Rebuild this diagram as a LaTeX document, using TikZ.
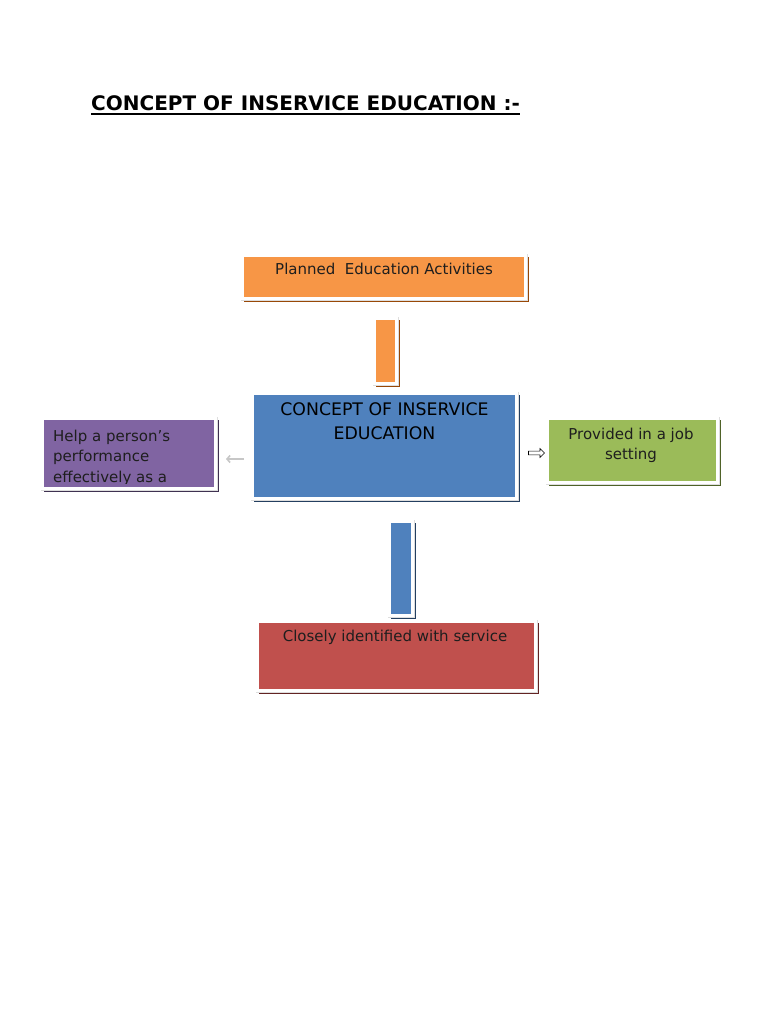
\documentclass[tikz,border=0pt]{standalone}
\usepackage{fontspec}
\setmainfont{DejaVu Sans}
\usetikzlibrary{shapes.arrows,arrows.meta}
\definecolor{corange}{HTML}{F79646}
\definecolor{sorange}{HTML}{984807}
\definecolor{cblue}{HTML}{4F81BD}
\definecolor{sblue}{HTML}{243F60}
\definecolor{cpurple}{HTML}{8064A2}
\definecolor{spurple}{HTML}{3F3151}
\definecolor{cgreen}{HTML}{9BBB59}
\definecolor{sgreen}{HTML}{4F6228}
\definecolor{cred}{HTML}{C0504D}
\definecolor{sred}{HTML}{632423}
\definecolor{txt}{HTML}{1E1E1E}
\tikzset{
  boxs/.style n args={4}{inner sep=0pt, minimum width=#3, minimum height=#4,
    fill=#1, draw=white, line width=2.5pt,
    preaction={draw=#2, fill=#2, line width=2.5pt, transform canvas={shift={(2.5pt,-2.5pt)}}},
    preaction={draw=black!13, line width=4pt}},
  body/.style={inner sep=0pt, anchor=base, text=txt, font=\fontsize{15}{20}\selectfont},
  bigtxt/.style={inner sep=0pt, anchor=base, text=black, font=\fontsize{17.3}{24}\selectfont},
}
\begin{document}
\begin{tikzpicture}[x=1pt,y=-1pt]
\useasboundingbox[fill=white] (0,0) rectangle (768,1024);

% title
\node[inner sep=0pt, anchor=base west, font=\bfseries\fontsize{20}{24}\selectfont] (title) at (91,111) {CONCEPT OF INSERVICE EDUCATION :-};
\draw[line width=1.3pt] ([yshift=-3pt]title.base west) -- ([yshift=-3pt]title.base east);

% boxes
\node[boxs={corange}{sorange}{283pt}{43pt}] (plan) at (384,277) {};
\node[boxs={corange}{sorange}{22pt}{65pt}] (obar) at (385.5,351) {};
\node[boxs={cblue}{sblue}{264pt}{105pt}] (center) at (384.5,446) {};
\node[boxs={cpurple}{spurple}{173pt}{70pt}] (purple) at (129,453.5) {};
\node[boxs={cgreen}{sgreen}{170pt}{64pt}] (green) at (632.5,450.5) {};
\node[boxs={cblue}{sblue}{23pt}{94pt}] (bbar) at (401,568.5) {};
\node[boxs={cred}{sred}{278pt}{69pt}] (red) at (396.5,656) {};

% texts
\node[body] (plant) at (384,274) {Planned\ \ Education Activities};
\node[bigtxt] (cent1) at (384.5,415) {CONCEPT OF INSERVICE};
\node[bigtxt] (cent2) at (384.5,439) {EDUCATION};
\begin{scope}
  \clip (44,420) rectangle (214,483);
  \node[body, anchor=base west] (pur1) at (53,441) {Help a person’s};
  \node[body, anchor=base west] (pur2) at (53,461.5) {performance};
  \node[body, anchor=base west] (pur3) at (53,482) {effectively as a};
\end{scope}
\node[body] (grn1) at (631,439) {Provided in a job};
\node[body] (grn2) at (631,459.5) {setting};
\node[body] (redt) at (395,641) {Closely identified with service};

% small arrows
\coordinate (la1) at (244,459);
\coordinate (la2) at (226,459);
\draw[black!22, line width=1.6pt, -{Straight Barb[length=3pt,width=7pt]}] (la1) -- (la2);
\node[single arrow, draw=black, fill=white, line width=0.6pt, minimum height=16pt,
      minimum width=9pt, single arrow head extend=1.5pt, inner sep=0.8pt] (rarrow) at (535.5,453) {};
\end{tikzpicture}
\end{document}
